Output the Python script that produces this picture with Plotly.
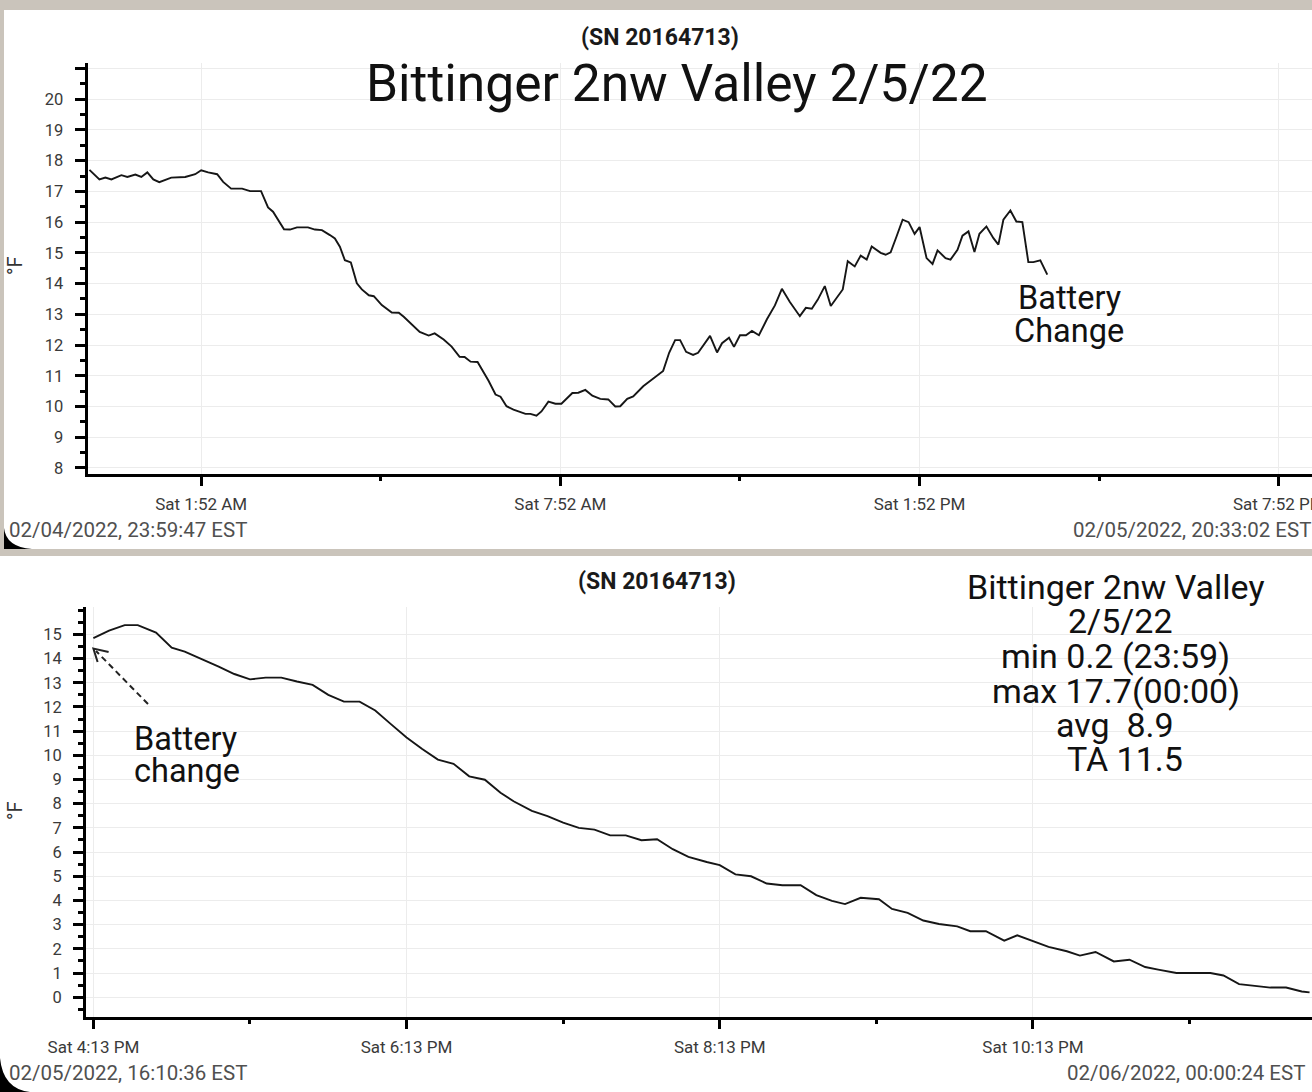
import pandas as pd
import plotly.graph_objects as go

# ---------------- data ----------------
# Top panel: minutes after 2022-02-05 00:00, temperature in °F
top_minutes = [0, 10, 16, 22, 32, 38, 46, 52, 58, 64,
               70, 82, 96, 106, 112, 119, 128, 134, 142, 153,
               161, 172, 179, 184, 195, 201, 208, 219, 226, 233,
               241, 246, 251, 256, 262, 268, 273, 280, 285, 293,
               303, 310, 315, 323, 331, 340, 346, 355, 363, 371,
               376, 382, 389, 400, 407, 412, 418, 425, 437, 442,
               448, 453, 460, 467, 473, 484, 490, 497, 504, 512,
               520, 527, 532, 539, 545, 555, 565, 575, 581, 587,
               592, 598, 605, 610, 622, 629, 634, 641, 646, 652,
               658, 664, 671, 679, 687, 694, 702, 712, 718, 724,
               730, 737, 743, 749, 755, 760, 767, 773, 779, 784,
               793, 798, 803, 809, 815, 821, 827, 832, 839, 845,
               850, 858, 863, 870, 875, 881, 887, 892, 899, 906,
               911, 916, 923, 929, 935, 941, 946, 953, 960]
top_temps = [17.7, 17.39, 17.45, 17.39, 17.53, 17.47, 17.55, 17.47, 17.62, 17.39,
             17.30, 17.45, 17.47, 17.56, 17.69, 17.62, 17.56, 17.31, 17.09, 17.09,
             17.01, 17.01, 16.48, 16.34, 15.77, 15.76, 15.83, 15.83, 15.76, 15.74,
             15.58, 15.47, 15.20, 14.76, 14.69, 14.01, 13.81, 13.62, 13.59, 13.30,
             13.06, 13.05, 12.92, 12.67, 12.43, 12.31, 12.38, 12.18, 11.95, 11.62,
             11.61, 11.46, 11.45, 10.84, 10.39, 10.32, 10.01, 9.90, 9.76, 9.76,
             9.70, 9.84, 10.16, 10.09, 10.09, 10.44, 10.45, 10.54, 10.35, 10.25,
             10.23, 10.00, 10.01, 10.25, 10.33, 10.66, 10.92, 11.16, 11.75, 12.16,
             12.16, 11.78, 11.68, 11.75, 12.30, 11.76, 12.06, 12.24, 11.94, 12.32,
             12.32, 12.46, 12.32, 12.84, 13.29, 13.83, 13.40, 12.94, 13.21, 13.18,
             13.48, 13.92, 13.27, 13.54, 13.81, 14.73, 14.56, 14.91, 14.78, 15.21,
             15.00, 14.94, 15.02, 15.54, 16.08, 16.00, 15.62, 15.84, 14.83, 14.64,
             15.08, 14.83, 14.78, 15.10, 15.56, 15.70, 15.03, 15.62, 15.86, 15.48,
             15.27, 16.08, 16.38, 16.02, 16.00, 14.70, 14.70, 14.76, 14.29]

# Bottom panel: minutes after 2022-02-05 16:00, temperature in °F
bottom_minutes = [13, 19, 25, 30, 37, 43, 48, 55, 61, 67,
                  73, 79, 85, 91, 97, 103, 109, 115, 121, 127,
                  133, 139, 145, 151, 157, 163, 169, 174, 181, 187,
                  193, 199, 205, 211, 217, 223, 229, 235, 241, 248,
                  253, 259, 265, 271, 277, 284, 290, 296, 301, 307,
                  314, 319, 325, 331, 337, 344, 349, 355, 362, 367,
                  374, 379, 386, 391, 397, 404, 410, 416, 421, 428,
                  434, 441, 446, 452, 458, 464, 470, 476, 479]
bottom_temps = [14.84, 15.15, 15.38, 15.38, 15.07, 14.45, 14.29, 13.97, 13.67, 13.36,
                13.14, 13.21, 13.21, 13.05, 12.91, 12.50, 12.22, 12.22, 11.85, 11.29,
                10.74, 10.26, 9.82, 9.65, 9.13, 8.99, 8.45, 8.10, 7.70, 7.49,
                7.22, 7.00, 6.93, 6.69, 6.69, 6.49, 6.53, 6.12, 5.80, 5.59,
                5.46, 5.08, 5.00, 4.70, 4.63, 4.63, 4.22, 3.98, 3.85, 4.11,
                4.05, 3.65, 3.49, 3.17, 3.03, 2.93, 2.73, 2.73, 2.34, 2.56,
                2.28, 2.08, 1.90, 1.72, 1.87, 1.48, 1.55, 1.25, 1.14, 1.00,
                1.00, 1.00, 0.90, 0.54, 0.47, 0.40, 0.40, 0.24, 0.20]

top_tick_times = ["2022-02-05 01:52", "2022-02-05 07:52", "2022-02-05 13:52", "2022-02-05 19:52"]
top_tick_labels = ["Sat 1:52 AM", "Sat 7:52 AM", "Sat 1:52 PM", "Sat 7:52 PM"]
top_minor_times = ["2022-02-05 04:52", "2022-02-05 10:52", "2022-02-05 16:52"]
top_y_ticks = list(range(8, 22))
top_y_labels = [str(v) for v in range(8, 21)] + [""]

bottom_tick_times = ["2022-02-05 16:13", "2022-02-05 18:13", "2022-02-05 20:13", "2022-02-05 22:13"]
bottom_tick_labels = ["Sat 4:13 PM", "Sat 6:13 PM", "Sat 8:13 PM", "Sat 10:13 PM"]
bottom_minor_times = ["2022-02-05 17:13", "2022-02-05 19:13", "2022-02-05 21:13", "2022-02-05 23:13"]
bottom_y_ticks = list(range(0, 16))

serial_text = "(SN 20164713)"
title_text = "Bittinger 2nw Valley 2/5/22"
stats_lines = ["Bittinger 2nw Valley", "2/5/22", "min 0.2 (23:59)",
               "max 17.7(00:00)", "avg  8.9", "TA 11.5"]

# ---------------- figure ----------------
W, H = 1312, 1092
FONT = "Roboto"


def px(x):
    return x / W


def py(y):
    return 1 - y / H


top_x = pd.Timestamp("2022-02-05 00:00") + pd.to_timedelta(top_minutes, unit="min")
bot_x = pd.Timestamp("2022-02-05 16:00") + pd.to_timedelta(bottom_minutes, unit="min")

fig = go.Figure()
fig.add_trace(go.Scatter(x=top_x, y=top_temps, mode="lines",
                         line=dict(color="#161616", width=1.9),
                         xaxis="x", yaxis="y", showlegend=False, hoverinfo="skip"))
fig.add_trace(go.Scatter(x=bot_x, y=bottom_temps, mode="lines",
                         line=dict(color="#161616", width=1.9),
                         xaxis="x2", yaxis="y2", showlegend=False, hoverinfo="skip"))

xtickfont = dict(family=FONT, size=17, color="#3a3a3a")
ytickfont = dict(family=FONT, size=16.5, color="#3a3a3a")
grid = "#ececec"

common_x = dict(type="date", showline=True, linecolor="black", linewidth=3,
                ticks="outside", ticklen=9, tickwidth=3, tickcolor="black",
                showgrid=True, gridcolor=grid, gridwidth=1, zeroline=False,
                tickfont=xtickfont, ticklabelstandoff=4, fixedrange=True,
                automargin=False, ticklabeloverflow="allow")
common_y = dict(showline=True, linecolor="black", linewidth=3,
                ticks="outside", ticklen=10, tickwidth=3, tickcolor="black",
                showgrid=True, gridcolor=grid, gridwidth=1, zeroline=False,
                tickfont=ytickfont, ticklabelstandoff=8, fixedrange=True,
                automargin=False)

fig.update_layout(
    width=W, height=H, autosize=False,
    margin=dict(l=0, r=0, t=0, b=0, pad=0),
    paper_bgcolor="#cac4bb",
    plot_bgcolor="white",
    xaxis=dict(common_x, domain=[px(87.5), 1.0], anchor="y",
               range=["2022-02-04 23:58:03", "2022-02-05 20:25:18"],
               tickmode="array", tickvals=top_tick_times, ticktext=top_tick_labels,
               minor=dict(tickmode="array", tickvals=top_minor_times, ticks="outside",
                          ticklen=4, tickwidth=3, tickcolor="black", showgrid=False)),
    yaxis=dict(common_y, domain=[py(473.5), py(63)], anchor="x",
               range=[7.82, 21.18], tickmode="array",
               tickvals=top_y_ticks, ticktext=top_y_labels,
               minor=dict(dtick=0.5, tick0=0, ticks="outside", ticklen=5,
                          tickwidth=3, tickcolor="black", showgrid=False)),
    xaxis2=dict(common_x, domain=[px(86), 1.0], anchor="y2",
                range=["2022-02-05 16:10:10", "2022-02-05 23:59:56"],
                tickmode="array", tickvals=bottom_tick_times, ticktext=bottom_tick_labels,
                minor=dict(tickmode="array", tickvals=bottom_minor_times, ticks="outside",
                           ticklen=4, tickwidth=3, tickcolor="black", showgrid=False)),
    yaxis2=dict(common_y, domain=[py(1016.6), py(607)], anchor="x2",
                range=[-0.80, 16.13], tickmode="array",
                tickvals=bottom_y_ticks,
                minor=dict(dtick=0.5, tick0=0, ticks="outside", ticklen=5,
                           tickwidth=3, tickcolor="black", showgrid=False)),
)

# panel backgrounds (white cards on stone)
shapes = [
    dict(type="rect", xref="paper", yref="paper", layer="below",
         x0=px(4), x1=1.0, y0=py(549), y1=py(10),
         fillcolor="white", line=dict(width=0)),
    dict(type="rect", xref="paper", yref="paper", layer="below",
         x0=0, x1=1.0, y0=0, y1=py(556),
         fillcolor="white", line=dict(width=0)),
]
# dark rounded screen corners
shapes.append(dict(type="path", xref="paper", yref="paper",
                   path=f"M {px(4)} {py(528)} Q {px(6)} {py(547)} {px(32)} {py(549)} L {px(4)} {py(549)} Z",
                   fillcolor="black", line=dict(width=0)))
shapes.append(dict(type="path", xref="paper", yref="paper",
                   path=f"M {px(0)} {py(1058)} Q {px(3)} {py(1089)} {px(30)} {py(1092)} L {px(0)} {py(1092)} Z",
                   fillcolor="black", line=dict(width=0)))
# dashed arrow for "Battery change" (bottom panel)
shapes.append(dict(type="line", xref="paper", yref="paper",
                   x0=px(148), y0=py(704), x1=px(96), y1=py(651),
                   line=dict(color="#222", width=2, dash="6px,4px")))
shapes.append(dict(type="path", xref="paper", yref="paper",
                   path=f"M {px(108.6)} {py(652)} L {px(93.4)} {py(648.5)} L {px(97.6)} {py(662)}",
                   line=dict(color="#222", width=2)))
fig.update_layout(shapes=shapes)

ann = []


def text(x, y, s, size, color="#111", xanchor="center", bold=False, angle=0):
    ann.append(dict(x=px(x), y=py(y), xref="paper", yref="paper", text=(f"<b>{s}</b>" if bold else s),
                    showarrow=False, xanchor=xanchor, yanchor="middle", textangle=angle,
                    font=dict(family=FONT, size=size, color=color), borderpad=0))


# top panel texts
text(660, 38, serial_text, 23, "#1a1a1a", bold=True)
text(677, 84, title_text, 51.5, "#111")
text(1069, 298, "Battery", 32.5, "#111")
text(1069, 331, "Change", 32.5, "#111")
text(8, 530, "02/04/2022, 23:59:47 EST", 20.5, "#505050", xanchor="left")
text(1312, 530, "02/05/2022, 20:33:02 EST", 20.5, "#505050", xanchor="right")
text(15, 266, "°F", 20, "#333", angle=-90)

# bottom panel texts
text(657, 581, serial_text, 23, "#1a1a1a", bold=True)
stats_y = [587, 621, 656, 691, 725, 759]
stats_x = [1116, 1120, 1115, 1116, 1115, 1125]
for sx, sy, line in zip(stats_x, stats_y, stats_lines):
    text(sx, sy, line, 34, "#111")
text(133, 739, "Battery", 32.5, "#111", xanchor="left")
text(133, 771, "change", 32.5, "#111", xanchor="left")
text(8, 1073, "02/05/2022, 16:10:36 EST", 20.5, "#505050", xanchor="left")
text(1306, 1073, "02/06/2022, 00:00:24 EST", 20.5, "#505050", xanchor="right")
text(15, 811, "°F", 20, "#333", angle=-90)

fig.update_layout(annotations=ann)

fig.write_html("out.html", config={"displayModeBar": False},
               post_script="document.body.style.margin='0';document.body.style.overflow='hidden';")
